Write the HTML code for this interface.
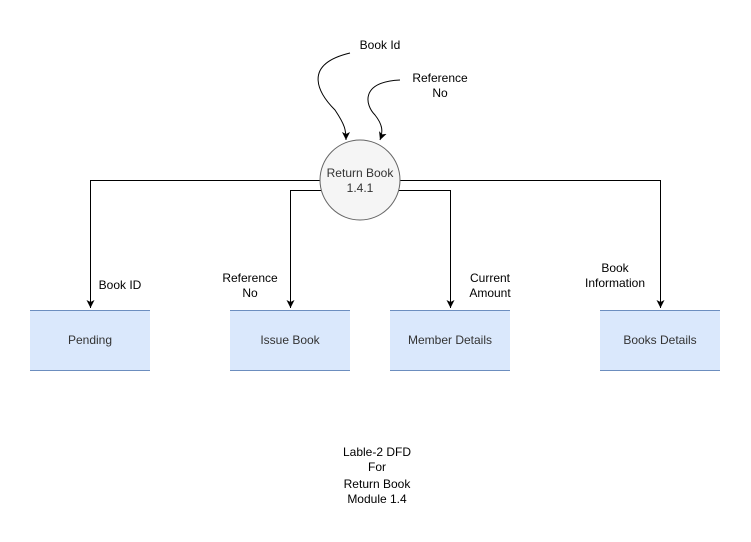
<!DOCTYPE html>
<html><head><style>
body{margin:0;background:#fff;width:751px;height:537px;overflow:hidden;font-family:"Liberation Sans",sans-serif;}
</style></head><body>
<svg width="751" height="537" xmlns="http://www.w3.org/2000/svg" font-family="Liberation Sans, sans-serif" font-size="12" fill="#000">
<defs><marker id="a" markerWidth="10" markerHeight="10" refX="8" refY="5" orient="auto" markerUnits="userSpaceOnUse"><path d="M0,1 L8,5 L0,9 L2,5 z" fill="#000"/></marker></defs>
<g fill="#dae8fc">
<rect x="30" y="310" width="120" height="60"/><rect x="230" y="310" width="120" height="60"/>
<rect x="390" y="310" width="120" height="60"/><rect x="600" y="310" width="120" height="60"/>
</g>
<g stroke="#6c8ebf" stroke-width="1">
<path d="M30 310.5H150M30 370.5H150M230 310.5H350M230 370.5H350M390 310.5H510M390 370.5H510M600 310.5H720M600 370.5H720"/>
</g>
<g stroke="#000" fill="none" stroke-width="1">
<path d="M322 180.5H90.5V308" marker-end="url(#a)"/>
<path d="M398 180.5H660.5V308" marker-end="url(#a)"/>
<path d="M324 190.5H290.5V308" marker-end="url(#a)"/>
<path d="M396 190.5H450.5V308" marker-end="url(#a)"/>
<path d="M350 53 C300 65, 320 95, 335 110 C345 125, 346 130, 346 140" marker-end="url(#a)"/>
<path d="M400 80 C360 82, 365 105, 375 115 C383 125, 383 132, 380 140" marker-end="url(#a)"/>
</g>
<circle cx="360" cy="180" r="40" fill="#f5f5f5" stroke="#666"/>
<g text-anchor="middle" fill="#333">
<text x="360" y="177">Return Book</text><text x="360" y="192">1.4.1</text>
<text x="90" y="344">Pending</text><text x="290" y="344">Issue Book</text>
<text x="450" y="344">Member Details</text><text x="660" y="344">Books Details</text>
</g>
<g text-anchor="middle">
<text x="380" y="49">Book Id</text>
<text x="440" y="82">Reference</text><text x="440" y="97">No</text>
<text x="120" y="289">Book ID</text>
<text x="250" y="282">Reference</text><text x="250" y="297">No</text>
<text x="490" y="282">Current</text><text x="490" y="297">Amount</text>
<text x="615" y="272">Book</text><text x="615" y="287">Information</text>
<text x="377" y="456">Lable-2 DFD</text><text x="377" y="471">For</text>
<text x="377" y="488">Return Book</text><text x="377" y="503">Module 1.4</text>
</g>
</svg>
</body></html>
